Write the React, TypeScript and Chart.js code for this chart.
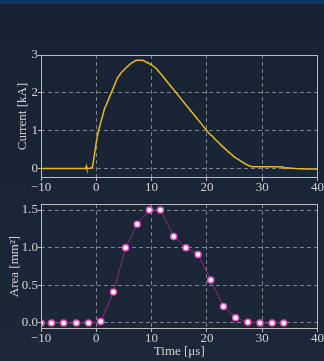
import React, { useEffect, useRef } from "react";
import { Chart, registerables } from "chart.js";
Chart.register(...registerables);

// ---- data ----
const currentTime = [-10, -8, -6, -4, -2.2, -1.9, -1.8, -1.7, -1.2, -0.7, -0.3, 0, 0.4, 0.8, 1.2, 1.5, 1.8, 2.3, 3.2, 3.8, 4.5, 5.3, 6.2, 7.2, 8.4, 9.9, 10.8, 11.8, 13, 14, 15, 16, 17, 18, 19, 20, 20.7, 21, 21.3, 22, 23, 23.9, 25, 26.3, 27.2, 28.1, 29, 30, 32, 33.8, 34, 34.3, 36, 38, 40];
const currentKA = [0, 0, 0, 0, 0, 0, 0.06, 0, 0.01, 0.03, 0.4, 0.7, 1.0, 1.22, 1.42, 1.59, 1.68, 1.86, 2.17, 2.39, 2.53, 2.65, 2.77, 2.86, 2.86, 2.75, 2.65, 2.48, 2.26, 2.08, 1.9, 1.72, 1.54, 1.36, 1.18, 1.0, 0.88, 0.86, 0.8, 0.7, 0.56, 0.44, 0.3, 0.18, 0.1, 0.05, 0.05, 0.05, 0.05, 0.04, 0.0, 0.02, 0.0, -0.01, -0.01];

const areaTime = [-10.0, -8.1, -5.9, -3.6, -1.4, 0.8, 3.1, 5.3, 7.4, 9.6, 11.6, 14.0, 16.2, 18.4, 20.7, 23.0, 25.2, 27.4, 29.6, 31.8, 33.9];
const areaMM2 = [0, 0, 0, 0, 0, 0.02, 0.41, 1.0, 1.31, 1.5, 1.5, 1.15, 1.0, 0.91, 0.57, 0.22, 0.07, 0.01, 0, 0, 0];

const timeTicks = [-10, 0, 10, 20, 30, 40];
const currentTicks = [0, 1, 2, 3];
const areaTicks = [0, 0.5, 1.0, 1.5];

// ---- style ----
const FONT = "'Liberation Serif', 'Times New Roman', serif";
const TEXT = "#d2d2d2";
const GRID = "rgba(205,205,205,0.55)";
const FRAME = "#bcbcbc";

const fmt = (v: number, d: number) => (v < 0 ? "\u2212" : "") + Math.abs(v).toFixed(d);

const framePlugin = {
  id: "frame",
  afterDraw(chart: any) {
    const { ctx, chartArea } = chart;
    const l = Math.round(chartArea.left) + 0.5;
    const t = Math.round(chartArea.top) + 0.5;
    const r = Math.round(chartArea.right) - 0.5;
    const b = Math.round(chartArea.bottom) - 0.5;
    ctx.save();
    ctx.setLineDash([]);
    ctx.strokeStyle = FRAME;
    ctx.lineWidth = 1;
    ctx.strokeRect(l, t, r - l, b - t);
    ctx.restore();
  },
};

function axis(ticks: number[], min: number, max: number, digits: number, extra: any) {
  return {
    type: "linear",
    min,
    max,
    afterBuildTicks: (s: any) => {
      s.ticks = ticks.map((v) => ({ value: v }));
    },
    ticks: {
      autoSkip: false,
      maxRotation: 0,
      minRotation: 0,
      padding: 0,
      color: TEXT,
      font: { family: FONT, size: 13, lineHeight: 1 },
      callback: (v: number) => fmt(v, digits),
    },
    grid: {
      color: GRID,
      lineWidth: 1,
      tickLength: 3,
      tickColor: FRAME,
    },
    border: { display: false, dash: [4, 3] },
    ...extra,
  };
}

export default function App() {
  const topRef = useRef<HTMLCanvasElement>(null);
  const botRef = useRef<HTMLCanvasElement>(null);

  useEffect(() => {
    const c1 = new Chart(topRef.current as HTMLCanvasElement, {
      type: "line",
      data: {
        datasets: [
          {
            data: currentTime.map((t, i) => ({ x: t, y: currentKA[i] })),
            borderColor: "#e8b923",
            borderWidth: 1.5,
            pointRadius: 0,
            tension: 0,
            fill: false,
          },
        ],
      },
      options: {
        animation: false,
        responsive: false,
        events: [],
        layout: { padding: { top: 55, right: 5.5, left: 0, bottom: 0 } },
        plugins: { legend: { display: false }, tooltip: { enabled: false } },
        scales: {
          x: axis(timeTicks, -10, 40, 0, { afterFit: (s: any) => { s.height = 22; } }),
          y: axis(currentTicks, -0.25, 3, 0, {
            afterFit: (s: any) => { s.width = 41; },
            title: {
              display: true,
              text: "Current [kA]",
              color: TEXT,
              font: { family: FONT, size: 13 },
              padding: { top: 15, bottom: 0 },
            },
          }),
        },
      } as any,
      plugins: [framePlugin],
    });

    const c2 = new Chart(botRef.current as HTMLCanvasElement, {
      type: "line",
      data: {
        datasets: [
          {
            data: areaTime.map((t, i) => ({ x: t, y: areaMM2[i] })),
            borderColor: "#8e2a78",
            borderWidth: 1,
            pointRadius: 3,
            pointBackgroundColor: "#ffffff",
            pointBorderColor: "#e050c0",
            pointBorderWidth: 1.5,
            tension: 0,
            fill: false,
          },
        ],
      },
      options: {
        animation: false,
        responsive: false,
        events: [],
        layout: { padding: { top: 9, right: 5.5, left: 0, bottom: 0 } },
        plugins: { legend: { display: false }, tooltip: { enabled: false } },
        scales: {
          x: axis(timeTicks, -10, 40, 0, {
            afterFit: (s: any) => { s.height = 32; },
            title: {
              display: true,
              text: "Time [\u03bcs]",
              color: TEXT,
              font: { family: FONT, size: 13 },
              padding: { top: 0, bottom: 2 },
            },
          }),
          y: axis(areaTicks, -0.08, 1.58, 1, {
            afterFit: (s: any) => { s.width = 41; },
            title: {
              display: true,
              text: "Area [mm\u00b2]",
              color: TEXT,
              font: { family: FONT, size: 13 },
              padding: { top: 7, bottom: 0 },
            },
          }),
        },
      } as any,
      plugins: [framePlugin],
    });

    return () => {
      c1.destroy();
      c2.destroy();
    };
  }, []);

  return (
    <div
      style={{
        position: "fixed",
        left: 0,
        top: 0,
        width: 324,
        height: 361,
        overflow: "hidden",
        background: "linear-gradient(180deg, #0b3768 0px, #0b3768 4px, #172233 4px, #1a2637 60%, #1c2838 100%)",
      }}
    >
      <canvas
        ref={topRef}
        width={324}
        height={200}
        style={{ position: "absolute", left: 0, top: 0, width: 324, height: 200 }}
      />
      <canvas
        ref={botRef}
        width={324}
        height={166}
        style={{ position: "absolute", left: 0, top: 195, width: 324, height: 166 }}
      />
    </div>
  );
}
